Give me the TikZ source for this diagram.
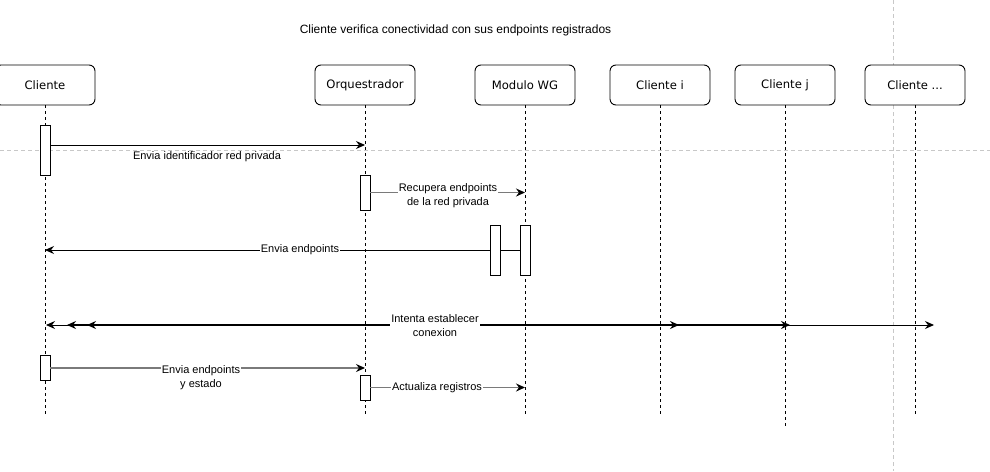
\documentclass[tikz,border=0pt]{standalone}
\usepackage{fontspec}
\setmainfont{Liberation Sans}
\newfontfamily\hdrfont{DejaVu Sans}
\usetikzlibrary{arrows.meta}
\definecolor{guide}{HTML}{C8C8C8}
\definecolor{msggray}{HTML}{7A7A7A}
\tikzset{
  hdr/.style={draw, rounded corners=6pt, fill=white, minimum width=100pt, minimum height=40pt, inner sep=0pt, line width=0.9pt, font=\hdrfont\fontsize{11.6}{13}\selectfont},
  life/.style={dash pattern=on 3pt off 3pt, line width=0.8pt},
  actbox/.style={draw, fill=white, minimum width=10pt, inner sep=0pt, line width=0.9pt},
  msg/.style={-{Stealth[length=9pt,width=8pt,inset=3pt]}, line width=1pt},
  msgg/.style={-{Stealth[length=9pt,width=8pt,inset=3pt,black]}, line width=1.2pt, draw=msggray},
  lbl/.style={fill=white, inner sep=1pt, align=center, font=\fontsize{11}{14}\selectfont},
  guideline/.style={draw=guide, dash pattern=on 4pt off 3pt, line width=0.8pt},
  ttl/.style={font=\fontsize{12}{14}\selectfont}
}
\begin{document}
\begin{tikzpicture}[x=1pt,y=-1pt]
\useasboundingbox (0,0) rectangle (990,471);
% guides
\coordinate (gh1) at (0,150); \coordinate (gh2) at (990,150);
\coordinate (gv1) at (893,0); \coordinate (gv2) at (893,471);
\draw[guideline] (gh1) -- (gh2);
\draw[guideline] (gv1) -- (gv2);
% title
\node[ttl] (title) at (455.5,30) {Cliente verifica conectividad con sus endpoints registrados};
% lifeline ends
\coordinate (clb) at (45,415);
\coordinate (orb) at (365,415);
\coordinate (mwb) at (525,415);
\coordinate (cib) at (660,415);
\coordinate (cjb) at (785,426);
\coordinate (cxb) at (915,415);
% headers
\node[hdr] (cl) at (45,85) {Cliente};
\node[hdr] (or) at (365,85) {Orquestrador};
\node[hdr] (mw) at (525,85) {Modulo WG};
\node[hdr] (ci) at (660,85) {Cliente i};
\node[hdr] (cj) at (785,85) {Cliente j};
\node[hdr] (cx) at (915,85) {Cliente ...};
\draw[life] (cl.south) -- (clb);
\draw[life] (or.south) -- (orb);
\draw[life] (mw.south) -- (mwb);
\draw[life] (ci.south) -- (cib);
\draw[life] (cj.south) -- (cjb);
\draw[life] (cx.south) -- (cxb);
% activations
\node[actbox, minimum height=50pt] (a1) at (45,150) {};
\node[actbox, minimum height=35pt] (a2) at (365,192.5) {};
\node[actbox, minimum height=50pt] (a3) at (495,250) {};
\node[actbox, minimum height=50pt] (a4) at (525,250) {};
\node[actbox, minimum height=25pt] (a5) at (45,367.5) {};
\node[actbox, minimum height=25pt] (a6) at (365,387.5) {};
% message 1
\coordinate (m1) at (365,145);
\draw[msg] (a1.east |- m1) -- (m1);
\node[lbl] (l1) at (207,157) {Envia identificador red privada};
% message 2
\coordinate (m2) at (525,192.5);
\draw[msgg] (a2.east |- m2) -- (m2);
\node[lbl] (l2) at (448,195.5) {Recupera endpoints\\de la red privada};
% message 3
\coordinate (m3) at (45,250);
\draw[line width=1pt] (a3.east) -- (a4.west);
\draw[msg] (a3.west) -- (m3);
\node[lbl] (l3) at (300,250) {Envia endpoints};
% message 4
\coordinate (ic) at (435,325);
\coordinate (t1) at (46,325);
\coordinate (t2) at (67,325);
\coordinate (t3) at (87,325);
\coordinate (t4) at (679,325);
\coordinate (t5) at (790,325);
\coordinate (t6) at (934,325);
\draw[msg, line width=1pt] (ic) -- (t1);
\draw[msg, line width=1.4pt] (ic) -- (t2);
\draw[msg, line width=1.9pt] (ic) -- (t3);
\draw[msg, line width=1pt] (ic) -- (t6);
\draw[msg, line width=1.4pt] (ic) -- (t5);
\draw[msg, line width=1.9pt] (ic) -- (t4);
\node[lbl] (l4) at (435,326) {Intenta establecer\\conexion};
% message 5
\coordinate (m5) at (365,368);
\draw[msgg] (a5.east |- m5) -- (m5);
\node[lbl] (l5) at (201,377.5) {Envia endpoints\\y estado};
% message 6
\coordinate (m6) at (525,387.5);
\draw[msgg] (a6.east |- m6) -- (m6);
\node[lbl] (l6) at (437,387.5) {Actualiza registros};
\end{tikzpicture}
\end{document}
